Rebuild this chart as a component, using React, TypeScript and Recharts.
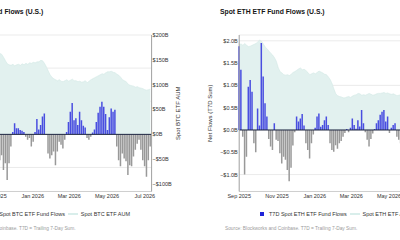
import React from 'react';
import { ComposedChart, Bar, Area, XAxis, YAxis, CartesianGrid, ReferenceLine, Cell } from 'recharts';

// one point every 3 days starting Sep 1 2025
const START_DATE = '2025-09-01';
const STEP_DAYS = 3;
const MONTH_TICKS = ['2025-09-01', '2025-11-01', '2026-01-01', '2026-03-01', '2026-05-01', '2026-07-01'];
const MONTH_LABELS = ['Sep 2025', 'Nov 2025', 'Jan 2026', 'Mar 2026', 'May 2026', 'Jul 2026'];

// T7D net flows, $B
const BTC_FLOWS = [
  0.6, 0.9, -0.4, 1.1, 1.6, 0.7, -0.6, 0.4, 1.9, 2.2, 1.3, -0.3, -1.1, -1.6, 0.7, 1.2, 0.5, -0.7, -1.9, -1.3, 0.4, -0.7, -1.2,
  -1.56, -1.26, -2.15, -1.75, -2.75, -1.75, -0.74, 0.15, 0.67, 0.37, 0.37, 0.26, 0.22, 0.15, -0.15, -0.33, -0.22, -0.74,
  -0.45, 0.15, 0.93, 0.3, 0.56, 1.08, 1.26, -0.04, -1.15, -1.45, -1.26, -1.04, -1.86, -1.04, -0.45, -0.63, -0.85, -0.33,
  0.15, 0.74, 1.37, 1.89, 0.85, 0.97, 0.56, 1.37, 0.85, 0.52, 0.41, -0.22, -0.33, -0.15, 0.11, 0.3, 0.74, 1.3, 1.67, 1.97,
  1.67, 1.23, 0.26, 1.04, 1.56, 1.37, 1.49, -0.74, -1.56, -1.93, -1.15, -1.45, -1.63, -2.45, -1.86, -1.93, -1.34, -0.93,
  -0.56, -0.33, -0.93, -1.56, -1.93, -2.56, -1.56, -0.74,
];
// AUM, $B
const BTC_AUM = [
  145, 147, 150, 148, 152, 155, 158, 156, 154, 157, 160, 163, 166, 168, 165, 162, 164, 160, 158, 161, 163, 165, 164,
  163, 161, 155, 148, 142, 140, 139, 141, 138, 140, 141, 139, 142, 140, 143, 141, 144, 143, 145, 144, 146, 146, 149, 148,
  143, 136, 128, 120, 115, 112, 110, 108, 110, 107, 106, 108, 110, 107, 109, 111, 108, 108, 106, 107, 105, 106, 108, 104,
  107, 110, 112, 114, 116, 118, 120, 122, 121, 124, 126, 126, 127, 125, 124, 121, 119, 115, 110, 108, 106, 101, 99, 98,
  97, 95, 96, 94, 93, 92, 90, 89, 90, 91,
];
const ETH_FLOWS = [
  1.88, 1.35, -0.15, -1.0, -0.6, 0.97, 1.12, 0.86, -0.3, -0.5, 0.48, 0.1, 1.95, 1.2, 0.6, 0.3, -0.2, -0.37, -0.45, 0.15,
  -0.22, -0.25, -0.52, -0.75, -0.6, -0.67, -0.9, -1.15, -0.85, -0.35, -0.05, 0.3, 0.19, 0.26, 0.36, 0.1, -0.3, -0.45,
  -0.64, -0.3, -0.1, 0.05, 0.3, 0.37, 0.07, 0.11, 0.22, 0.3, 0.11, -0.3, -0.45, -0.49, -0.34, -0.42, -0.3, -0.25, -0.15,
  -0.07, 0.02, -0.05, 0.05, 0.26, 0.11, 0.03, 0.22, 0.08, 0.45, 0.15, -0.05, -0.22, -0.37, -0.2, -0.08, 0.02, 0.15, 0.22,
  0.34, 0.41, 0.45, 0.19, 0.3, -0.07, 0.05, 0.11, 0.15, -0.15, -0.22, -0.3, -0.1, 0.2, 0.35, 0.1, -0.2, -0.4, -0.25, 0.15,
  0.3, 0.45, 0.2, -0.1, -0.3, 0.1, 0.25, 0.05, -0.12,
];
const ETH_AUM = [
  19.1, 19.3, 19.0, 19.4, 19.0, 18.7, 18.8, 19.0, 19.2, 19.4, 19.7, 20.2, 19.9, 19.3, 18.6, 18.2, 17.7, 17.2, 16.8, 16.2,
  15.4, 14.0, 13.1, 12.8, 12.4, 12.3, 12.4, 12.2, 12.5, 12.9, 13.1, 13.4, 13.7, 13.9, 13.5, 13.6, 13.3, 12.9, 12.4, 12.6,
  12.8, 12.6, 12.9, 13.2, 13.0, 12.8, 12.5, 12.4, 11.9, 11.3, 10.4, 9.2, 8.1, 7.7, 7.5, 7.4, 7.2, 7.2, 7.4, 7.5, 7.3, 7.6,
  7.8, 7.9, 8.2, 8.1, 7.8, 7.9, 7.8, 8.0, 8.2, 8.0, 7.8, 7.9, 8.1, 8.2, 8.2, 8.3, 8.4, 8.2, 8.3, 8.1, 8.0, 8.1, 7.9, 7.7,
  7.8, 7.9, 8.1, 8.3, 8.0, 7.8, 7.6, 7.5, 7.7, 7.9, 8.2, 8.4, 8.3, 8.1, 8.0, 7.8, 8.0, 8.1, 8.2,
];

const FONT = '"Liberation Sans", Arial, sans-serif';
const dayOf = (iso: string) => (Date.parse(iso) - Date.parse(START_DATE)) / 86400000;
const monthTicks = MONTH_TICKS.map(dayOf);
const money = (v: number, digits: number) => `${v < 0 ? '\u2212' : ''}$${Math.abs(v).toFixed(digits)}B`;

type PanelProps = {
  left: number;
  title: string;
  flows: number[];
  aum: number[];
  flowDomain: [number, number];
  flowTicks: number[];
  flowDigits: number;
  aumDomain: [number, number];
  aumTicks: number[];
  aumDigits: number;
  flowLabel: string;
  aumLabel: string;
  flowLegend: string;
  aumLegend: string;
};

const tickStyle = { fontSize: 5.5, fill: '#333', fontFamily: FONT };

function Panel(p: PanelProps) {
  const data = p.flows.map((f, i) => ({ day: i * STEP_DAYS, flow: f, aum: p.aum[i] }));
  return (
    <div style={{ position: 'absolute', left: p.left, top: 0, width: 270, height: 240 }}>
      <div style={{ position: 'absolute', left: 20, top: 8, fontSize: 6.8, fontWeight: 700, color: '#151515', whiteSpace: 'nowrap', lineHeight: '8px' }}>
        {p.title}
      </div>
      <div style={{ position: 'absolute', left: 0, top: 0 }}>
        <ComposedChart width={265.6} height={203.5} data={data} margin={{ top: 35, right: 0, bottom: 0, left: 0 }}>
          <CartesianGrid yAxisId="flow" vertical={false} stroke="#e6e6e6" strokeWidth={0.8} />
          <XAxis
            dataKey="day"
            type="number"
            domain={[0, 314]}
            ticks={monthTicks}
            interval={0}
            tickFormatter={(d: number) => MONTH_LABELS[monthTicks.indexOf(d)]}
            height={12}
            tickSize={0}
            tickMargin={3}
            stroke="#cfcfcf"
            tick={tickStyle}
          />
          <YAxis
            yAxisId="flow"
            orientation="left"
            width={39.2}
            domain={p.flowDomain}
            ticks={p.flowTicks}
            allowDataOverflow
            tickFormatter={(v: number) => money(v, p.flowDigits)}
            tickSize={0}
            tickMargin={1.5}
            stroke="#a0a0a0"
            tick={tickStyle}
            label={{ value: p.flowLabel, angle: -90, position: 'insideLeft', offset: 10, style: { textAnchor: 'middle', fontSize: 6, fill: '#333', fontFamily: FONT } }}
          />
          <YAxis
            yAxisId="aum"
            orientation="right"
            width={32}
            domain={p.aumDomain}
            ticks={p.aumTicks}
            allowDataOverflow
            tickFormatter={(v: number) => money(v, p.aumDigits)}
            tickSize={0}
            tickMargin={1}
            stroke="#a0a0a0"
            tick={tickStyle}
            label={{ value: p.aumLabel, angle: -90, position: 'insideRight', offset: 6, style: { textAnchor: 'middle', fontSize: 6, fill: '#333', fontFamily: FONT } }}
          />
          <Area
            yAxisId="aum"
            dataKey="aum"
            type="linear"
            fill="#e2f1ef"
            fillOpacity={1}
            stroke="#d4e9e6"
            strokeWidth={0.6}
            isAnimationActive={false}
          />
          <Bar yAxisId="flow" dataKey="flow" barSize={1.5} isAnimationActive={false}>
            {data.map((d) => (
              <Cell key={d.day} fill={d.flow >= 0 ? '#494ee0' : '#999999'} />
            ))}
          </Bar>
          <ReferenceLine yAxisId="flow" y={0} stroke="#1c2440" strokeWidth={1} />
        </ComposedChart>
      </div>
      <div style={{ position: 'absolute', left: 60, top: 212, width: 4, height: 4, background: '#1f23d8' }} />
      <div style={{ position: 'absolute', left: 69, top: 211, fontSize: 5.5, lineHeight: '6px', color: '#333', whiteSpace: 'nowrap' }}>
        {p.flowLegend}
      </div>
      <div style={{ position: 'absolute', left: 150, top: 213, width: 10, height: 1.5, background: '#d9eeeb' }} />
      <div style={{ position: 'absolute', left: 162.5, top: 211, fontSize: 5.5, lineHeight: '6px', color: '#333', whiteSpace: 'nowrap' }}>
        {p.aumLegend}
      </div>
      <div style={{ position: 'absolute', left: 25, top: 226, fontSize: 4.8, lineHeight: '6px', color: '#9c9c9c', whiteSpace: 'nowrap' }}>
        Source: Blockworks and Coinbase. T7D = Trailing 7-Day Sum.
      </div>
    </div>
  );
}

export default function App() {
  return (
    <div style={{ position: 'fixed', left: 0, top: 0, width: 400, height: 240, overflow: 'hidden', background: '#fff', fontFamily: FONT }}>
      <Panel
        left={-81.7}
        title="Spot BTC ETF Fund Flows (U.S.)"
        flows={BTC_FLOWS}
        aum={BTC_AUM}
        flowDomain={[-3.45, 6]}
        flowTicks={[-3, -2, -1, 0, 1, 2, 3, 4, 5, 6]}
        flowDigits={1}
        aumDomain={[-115, 200]}
        aumTicks={[-100, -50, 0, 50, 100, 150, 200]}
        aumDigits={0}
        flowLabel="Net Flows (T7D Sum)"
        aumLabel="Spot BTC ETF AUM"
        flowLegend="T7D Spot BTC ETF Fund Flows"
        aumLegend="Spot BTC ETF AUM"
      />
      <Panel
        left={200}
        title="Spot ETH ETF Fund Flows (U.S.)"
        flows={ETH_FLOWS}
        aum={ETH_AUM}
        flowDomain={[-1.38, 2.13]}
        flowTicks={[-1, -0.5, 0, 0.5, 1, 1.5, 2]}
        flowDigits={1}
        aumDomain={[-13.8, 21.3]}
        aumTicks={[-10, 0, 10, 20]}
        aumDigits={0}
        flowLabel="Net Flows (T7D Sum)"
        aumLabel="Spot ETH ETF AUM"
        flowLegend="T7D Spot ETH ETF Fund Flows"
        aumLegend="Spot ETH ETF AUM"
      />
    </div>
  );
}
